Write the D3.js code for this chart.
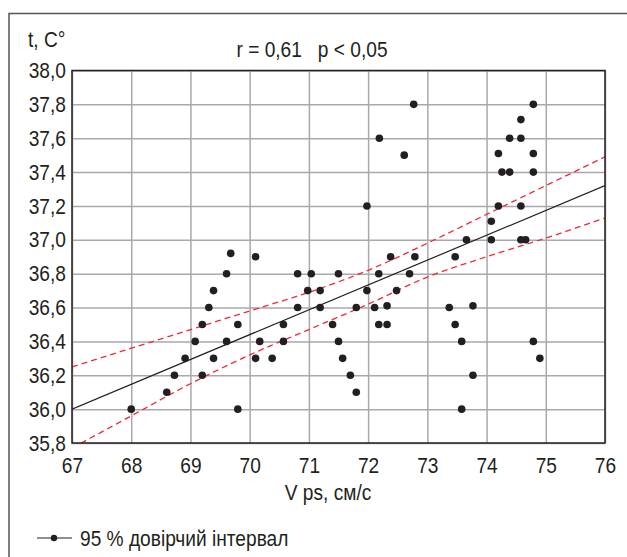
<!DOCTYPE html>
<html>
<head>
<meta charset="utf-8">
<script src="https://cdn.jsdelivr.net/npm/d3@7"></script>
<style>
  body { margin: 0; background: #fff; }
  svg text { font-family: "Liberation Sans", Arial, sans-serif; fill: #231f20; }
</style>
</head>
<body>
<svg id="chart" width="627" height="557"></svg>
<script>
// measured points: V ps (cm/s) and temperature
var vps = [68.0, 68.6, 68.73, 68.91, 69.08, 69.2, 69.2, 69.31, 69.39, 69.39, 69.61, 69.61, 69.68, 69.8, 69.8,
  70.1, 70.1, 70.17, 70.38, 70.57, 70.57, 70.81, 70.81, 70.98, 71.04, 71.19, 71.19, 71.4, 71.5, 71.5,
  71.57, 71.7, 71.8, 71.8, 71.98, 72.11, 72.18, 72.18, 72.32, 72.32, 72.38, 72.48, 72.7, 72.79,
  72.77, 72.19, 72.61, 71.98,
  74.79, 74.58, 74.39, 74.58, 74.2, 74.79, 74.26, 74.39, 74.79, 74.2, 74.58, 74.08, 73.66, 74.08,
  74.58, 74.66, 73.47, 73.37, 73.77, 73.47, 73.58, 74.79, 74.9, 73.77, 73.58];
var temp = [36.0, 36.1, 36.2, 36.3, 36.4, 36.2, 36.5, 36.6, 36.3, 36.7, 36.8, 36.4, 36.92, 36.5, 36.0,
  36.9, 36.3, 36.4, 36.3, 36.4, 36.5, 36.8, 36.6, 36.7, 36.8, 36.7, 36.6, 36.5, 36.8, 36.4,
  36.3, 36.2, 36.1, 36.6, 36.7, 36.6, 36.8, 36.5, 36.61, 36.5, 36.9, 36.7, 36.8, 36.9,
  37.8, 37.6, 37.5, 37.2,
  37.8, 37.71, 37.6, 37.6, 37.51, 37.51, 37.4, 37.4, 37.4, 37.2, 37.2, 37.11, 37.0, 37.0,
  37.0, 37.0, 36.9, 36.6, 36.61, 36.5, 36.4, 36.4, 36.3, 36.2, 36.0];

// regression line ends and 95% band
var fitX = [67, 76];
var fitY = [36.0, 37.32];
var bandX = [67, 68, 69, 70, 71, 72, 73, 74, 75, 76];
var bandUpper = [36.25, 36.36, 36.47, 36.58, 36.69, 36.82, 36.98, 37.15, 37.32, 37.49];
var bandLower = [35.77, 35.96, 36.15, 36.32, 36.47, 36.62, 36.78, 36.90, 37.01, 37.13];

var xTicks = [67, 68, 69, 70, 71, 72, 73, 74, 75, 76];
var yTicks = [35.8, 36.0, 36.2, 36.4, 36.6, 36.8, 37.0, 37.2, 37.4, 37.6, 37.8, 38.0];

var svg = d3.select('#chart');
var pLeft = 72, pRight = 605, pTop = 70.5, pBottom = 443;
var fs = 22, squeeze = 'scale(0.87,1)';   // narrow look of the original font

var x = d3.scaleLinear().domain([67, 76]).range([pLeft, pRight]);
var y = d3.scaleLinear().domain([35.8, 38]).range([pBottom, pTop]);
var fmt = function(d) { return d3.format('.1f')(d).replace('.', ','); };

function label(px, py, str, anchor) {
  return svg.append('text')
    .attr('transform', 'translate(' + px + ',' + py + ') ' + squeeze)
    .attr('text-anchor', anchor || 'start')
    .attr('font-size', fs)
    .attr('xml:space', 'preserve')
    .text(str);
}

// outer frame (only top and left show)
svg.append('path')
  .attr('d', 'M9,557 L9,13.5 L627,13.5')
  .attr('fill', 'none')
  .attr('stroke', '#555')
  .attr('stroke-width', 1.5);

svg.append('clipPath').attr('id', 'plot')
  .append('rect')
  .attr('x', pLeft).attr('y', pTop)
  .attr('width', pRight - pLeft).attr('height', pBottom - pTop);

// grid
svg.append('g')
  .attr('transform', 'translate(0,' + pBottom + ')')
  .call(d3.axisBottom(x).tickValues(xTicks).tickSize(-(pBottom - pTop)).tickFormat(''))
  .call(function(g) {
    g.select('.domain').remove();
    g.selectAll('line').attr('stroke', '#a7a9ac').attr('stroke-width', 1.5);
  });
svg.append('g')
  .attr('transform', 'translate(' + pLeft + ',0)')
  .call(d3.axisLeft(y).tickValues(yTicks).tickSize(-(pRight - pLeft)).tickFormat(''))
  .call(function(g) {
    g.select('.domain').remove();
    g.selectAll('line').attr('stroke', '#a7a9ac').attr('stroke-width', 1.5);
  });

// tick labels
svg.append('g')
  .attr('transform', 'translate(0,' + pBottom + ')')
  .call(d3.axisBottom(x).tickValues(xTicks).tickSize(0).tickPadding(14))
  .call(function(g) {
    g.select('.domain').remove();
    g.selectAll('text').attr('font-size', fs).attr('fill', '#231f20')
      .attr('font-family', null).attr('transform', squeeze);
  });
svg.append('g')
  .attr('transform', 'translate(' + pLeft + ',0)')
  .call(d3.axisLeft(y).tickValues(yTicks).tickSize(0).tickPadding(7).tickFormat(fmt))
  .call(function(g) {
    g.select('.domain').remove();
    g.selectAll('text').attr('font-size', fs).attr('fill', '#231f20')
      .attr('font-family', null).attr('transform', squeeze);
  });

var plot = svg.append('g').attr('clip-path', 'url(#plot)');

var band = d3.line().curve(d3.curveMonotoneX)
  .x(function(d) { return x(d[0]); })
  .y(function(d) { return y(d[1]); });

[bandUpper, bandLower].forEach(function(b) {
  plot.append('path')
    .datum(d3.zip(bandX, b))
    .attr('d', band)
    .attr('fill', 'none')
    .attr('stroke', '#ee2a36')
    .attr('stroke-width', 1.3)
    .attr('stroke-dasharray', '6,4');
});

plot.append('path')
  .datum(d3.zip(fitX, fitY))
  .attr('d', band)
  .attr('fill', 'none')
  .attr('stroke', '#231f20')
  .attr('stroke-width', 1.2);

plot.selectAll('circle')
  .data(d3.zip(vps, temp))
  .enter().append('circle')
  .attr('cx', function(d) { return x(d[0]); })
  .attr('cy', function(d) { return y(d[1]); })
  .attr('r', 3.8)
  .attr('fill', '#231f20');

// plot frame
svg.append('rect')
  .attr('x', pLeft).attr('y', pTop)
  .attr('width', pRight - pLeft).attr('height', pBottom - pTop)
  .attr('fill', 'none')
  .attr('stroke', '#231f20')
  .attr('stroke-width', 1.5);

label(28, 47, 't, C°');
label(312, 57, 'r = 0,61   p < 0,05', 'middle');
label(328, 500, 'V ps, см/с', 'middle');

// legend
var lg = svg.append('g').attr('transform', 'translate(0,538)');
lg.append('line')
  .attr('x1', 37).attr('x2', 72)
  .attr('stroke', '#231f20').attr('stroke-width', 1.2);
lg.append('circle').attr('cx', 54).attr('r', 3.2).attr('fill', '#231f20');
label(80, 546, '95 % довірчий інтервал');
</script>
</body>
</html>
